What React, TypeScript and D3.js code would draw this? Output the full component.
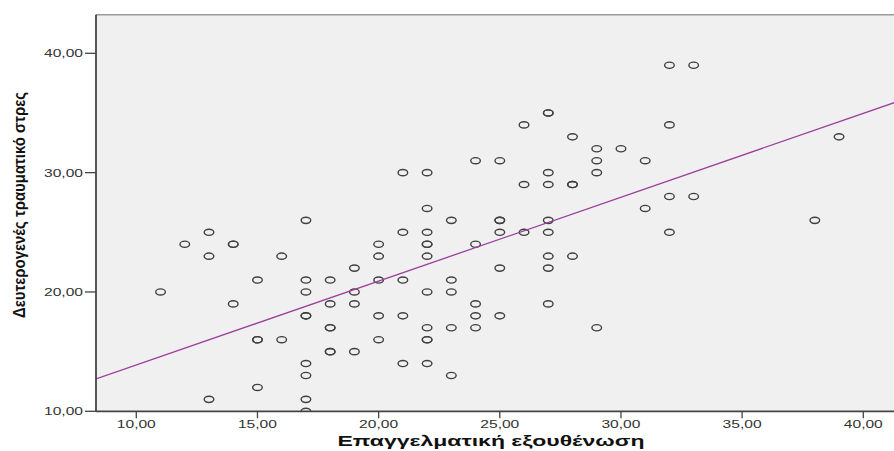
import React from "react";
import * as d3 from "d3";

const xValues = [
  11, 12, 13, 13, 13, 14, 14, 14, 15, 15, 15, 15, 16, 16,
  17, 17, 17, 17, 17, 17, 17, 17, 17,
  18, 18, 18, 18, 18, 18,
  19, 19, 19, 19,
  20, 20, 20, 20, 20,
  21, 21, 21, 21, 21,
  22, 22, 22, 22, 22, 22, 22, 22, 22, 22, 22,
  23, 23, 23, 23, 23,
  24, 24, 24, 24, 24,
  25, 25, 25, 25, 25, 25,
  26, 26, 26,
  27, 27, 27, 27, 27, 27, 27, 27, 27,
  28, 28, 28, 28,
  29, 29, 29, 29,
  30,
  31, 31,
  32, 32, 32, 32,
  33, 33,
  38, 39,
];
const yValues = [
  20, 24, 25, 23, 11, 24, 24, 19, 21, 16, 16, 12, 23, 16,
  26, 21, 20, 18, 18, 14, 13, 11, 10,
  21, 19, 17, 17, 15, 15,
  22, 20, 19, 15,
  24, 23, 21, 18, 16,
  30, 25, 21, 18, 14,
  30, 27, 25, 24, 24, 23, 20, 17, 16, 16, 14,
  26, 21, 20, 17, 13,
  31, 24, 19, 18, 17,
  31, 26, 26, 25, 22, 18,
  34, 29, 25,
  35, 35, 30, 29, 26, 25, 23, 22, 19,
  33, 29, 29, 23,
  32, 31, 30, 17,
  32,
  31, 27,
  39, 34, 28, 25,
  39, 28,
  26, 33,
];
const xTicks = [10, 15, 20, 25, 30, 35, 40];
const yTicks = [10, 20, 30, 40];
const fitIntercept = 6.85;
const fitSlope = 0.703;
const xTitle = "Επαγγελματική εξουθένωση";
const yTitle = "Δευτερογενές τραυματικό στρες";

const W = 894;
const H = 451;
const left = 96;
const top = 14.7;
const bottom = 411.3;
const right = 900;

export default function App() {
  const x = d3.scaleLinear().domain([10, 40]).range([136.3, 863.3]);
  const y = d3.scaleLinear().domain([10, 40]).range([411.3, 53.3]);
  const fmt = (v: number) => v.toFixed(2).replace(".", ",");
  const x0 = x.invert(left);
  const x1 = x.invert(right);
  const line = d3
    .line<number>()
    .x((d) => x(d))
    .y((d) => y(fitIntercept + fitSlope * d));
  const pts = xValues.map((v, i) => ({ x: v, y: yValues[i] }));
  const font = "'Liberation Sans', Arial, sans-serif";
  return (
    <svg
      width={W}
      height={H}
      style={{ position: "absolute", left: 0, top: 0, background: "#fff" }}
    >
      <defs>
        <clipPath id="plotclip">
          <rect x={left} y={top} width={right - left} height={bottom - top} />
        </clipPath>
      </defs>
      <rect x={left} y={top} width={right - left} height={bottom - top} fill="#f0f0f0" />
      <line x1={left} x2={right} y1={top} y2={top} stroke="#999" strokeWidth={1.5} />
      <g clipPath="url(#plotclip)">
        {pts.map((p, i) => (
          <ellipse
            key={i}
            cx={x(p.x)}
            cy={y(p.y)}
            rx={4.8}
            ry={3.1}
            fill="none"
            stroke="#404040"
            strokeWidth={1.4}
          />
        ))}
        <path
          d={line([x0, x1]) || ""}
          fill="none"
          stroke="#9b3f9b"
          strokeWidth={1.3}
        />
      </g>
      <line x1={left} x2={left} y1={top} y2={bottom} stroke="#444" strokeWidth={1.8} />
      <line x1={left} x2={right} y1={bottom} y2={bottom} stroke="#444" strokeWidth={1.8} />
      {yTicks.map((t) => (
        <g key={"y" + t}>
          <line x1={left - 11} x2={left} y1={y(t)} y2={y(t)} stroke="#444" strokeWidth={1.3} />
          <text
            x={83}
            y={y(t) + 4}
            textAnchor="end"
            fontFamily={font}
            fontSize={11}
            fill="#333"
            textLength={39}
            lengthAdjust="spacingAndGlyphs"
          >
            {fmt(t)}
          </text>
        </g>
      ))}
      {xTicks.map((t) => (
        <g key={"x" + t}>
          <line x1={x(t)} x2={x(t)} y1={bottom} y2={bottom + 7} stroke="#444" strokeWidth={1.3} />
          <text
            x={x(t)}
            y={428}
            textAnchor="middle"
            fontFamily={font}
            fontSize={11}
            fill="#333"
            textLength={39}
            lengthAdjust="spacingAndGlyphs"
          >
            {fmt(t)}
          </text>
        </g>
      ))}
      <text
        x={491}
        y={446}
        textAnchor="middle"
        fontFamily={font}
        fontWeight="bold"
        fontSize={14}
        fill="#111"
        textLength={307}
        lengthAdjust="spacingAndGlyphs"
      >
        {xTitle}
      </text>
      <text
        transform={`translate(25,205) rotate(-90)`}
        textAnchor="middle"
        fontFamily={font}
        fontWeight="bold"
        fontSize={16}
        fill="#111"
        textLength={226}
        lengthAdjust="spacingAndGlyphs"
      >
        {yTitle}
      </text>
    </svg>
  );
}
